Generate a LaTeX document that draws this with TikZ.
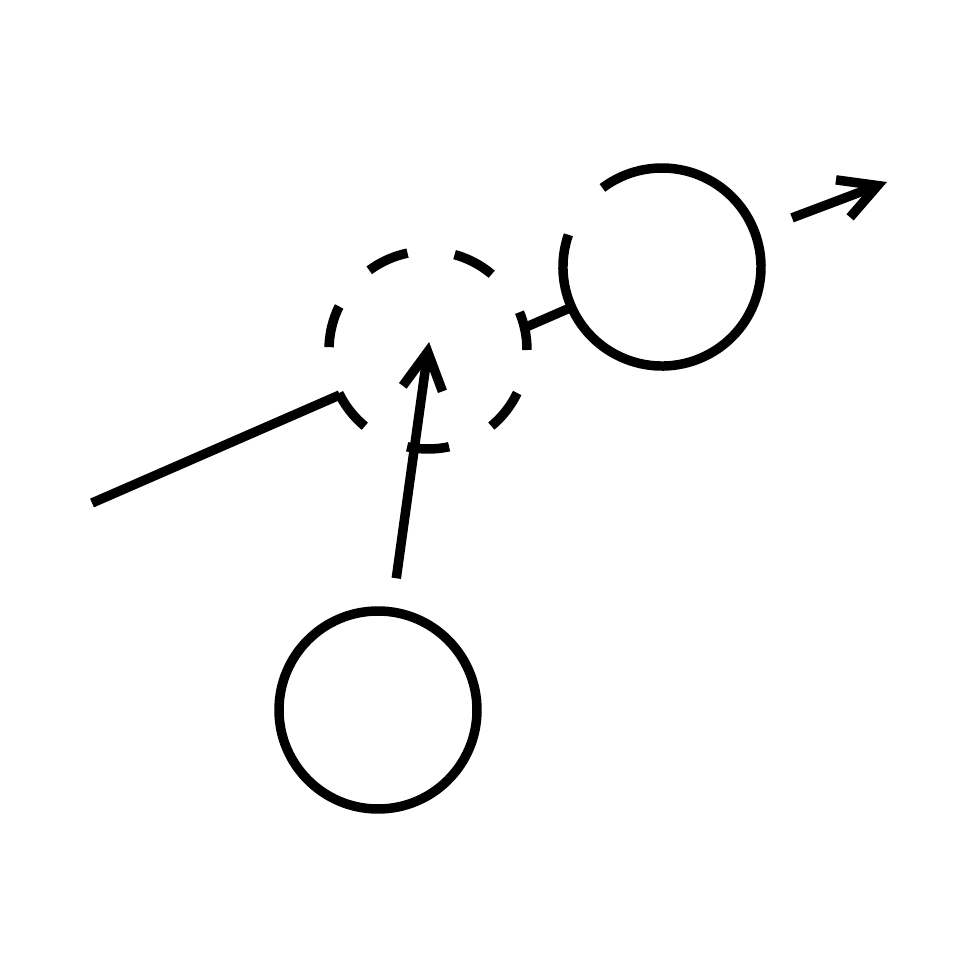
\documentclass[tikz,border=0pt]{standalone}
\usetikzlibrary{positioning, arrows.meta}

\begin{document}
\begin{tikzpicture}[line width=2.7pt, on grid,
    ring/.style={circle, minimum size=1.98cm, inner sep=0pt, outer sep=0pt},
    arr/.style={-{Straight Barb[length=0.37cm, width=0.40cm]}}]
  \useasboundingbox (0,0) rectangle (9.8,9.8);
  \node [ring, draw, dash pattern=on 0.423cm off 0.475cm, dash phase=0.035cm] (c) at (4.28,6.30) {};
  \node [ring, above right=0.83cm and 2.34cm of c] (u) {};
  \node [ring, draw, below left=3.60cm and 0.50cm of c] (d) {};
  \coordinate (l) at (0.92,4.77);
  \coordinate [above right=0.85cm and 2.25cm of u] (o);
  \draw (u.161) arc[start angle=161, end angle=487, radius=0.99cm];
  \draw (l) -- (c.207);
  \draw (c.13) -- (u.204);
  \draw [arr, shorten <=0.34cm, shorten >=-0.08cm] (d) -- (c.center);
  \draw [arr, shorten <=0.40cm] (u) -- (o);
\end{tikzpicture}
\end{document}
